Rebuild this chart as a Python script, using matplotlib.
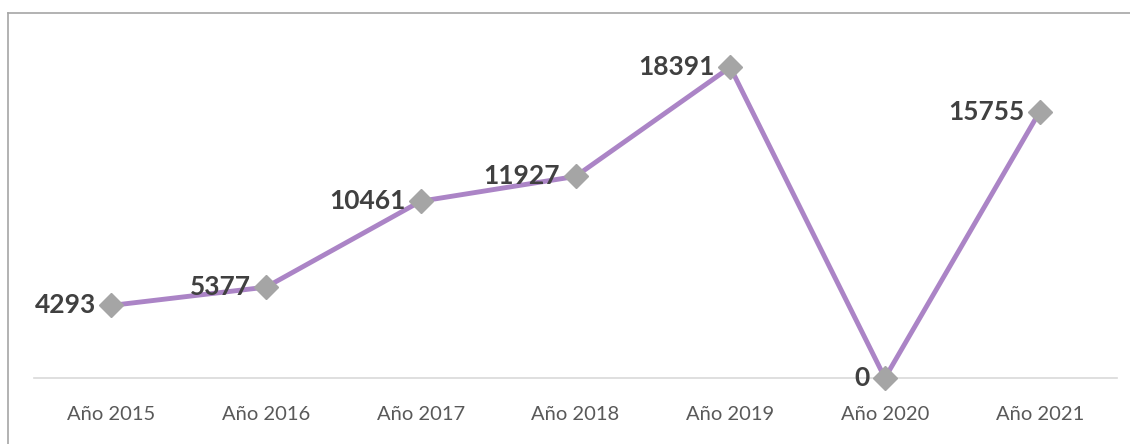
import matplotlib.pyplot as plt
from matplotlib.lines import Line2D

# data
years = ["Año 2015", "Año 2016", "Año 2017", "Año 2018", "Año 2019", "Año 2020", "Año 2021"]
values = [4293, 5377, 10461, 11927, 18391, 0, 15755]

plt.rcParams['font.family'] = ['Lato', 'DejaVu Sans']

fig = plt.figure(figsize=(11.3, 4.44), dpi=100)
ax = fig.add_axes([34 / 1130, 66 / 444, (1117 - 34) / 1130, (378 - 40) / 444])

x = list(range(len(years)))
ax.plot(x, values, color='#ab84c6', linewidth=3.5, marker='D', markersize=12.5,
        markerfacecolor='#a5a5a5', markeredgecolor='#a5a5a5', zorder=3, clip_on=False)

for xi, v in zip(x, values):
    ax.annotate(str(v), (xi, v), xytext=(-11, 0), textcoords='offset points',
                ha='right', va='center', fontsize=19, fontweight='bold', color='#404040')

ax.set_xlim(-0.5, 6.5)
ax.set_ylim(0, 20000)
ax.set_xticks(x)
ax.set_xticklabels(years, fontsize=14.5, color='#595959')
ax.tick_params(axis='x', length=0, pad=20)
ax.set_yticks([])
for side in ['top', 'right', 'left']:
    ax.spines[side].set_visible(False)
ax.spines['bottom'].set_color('#d9d9d9')
ax.spines['bottom'].set_linewidth(1.2)

# outer chart border (top and left visible)
border = '#a6a6a6'
fig.add_artist(Line2D([8 / 1130, 1], [1 - 13 / 444, 1 - 13 / 444], transform=fig.transFigure, color=border, linewidth=1.2))
fig.add_artist(Line2D([8 / 1130, 8 / 1130], [0, 1 - 13 / 444], transform=fig.transFigure, color=border, linewidth=1.2))

fig.savefig('out.png', dpi=100)
